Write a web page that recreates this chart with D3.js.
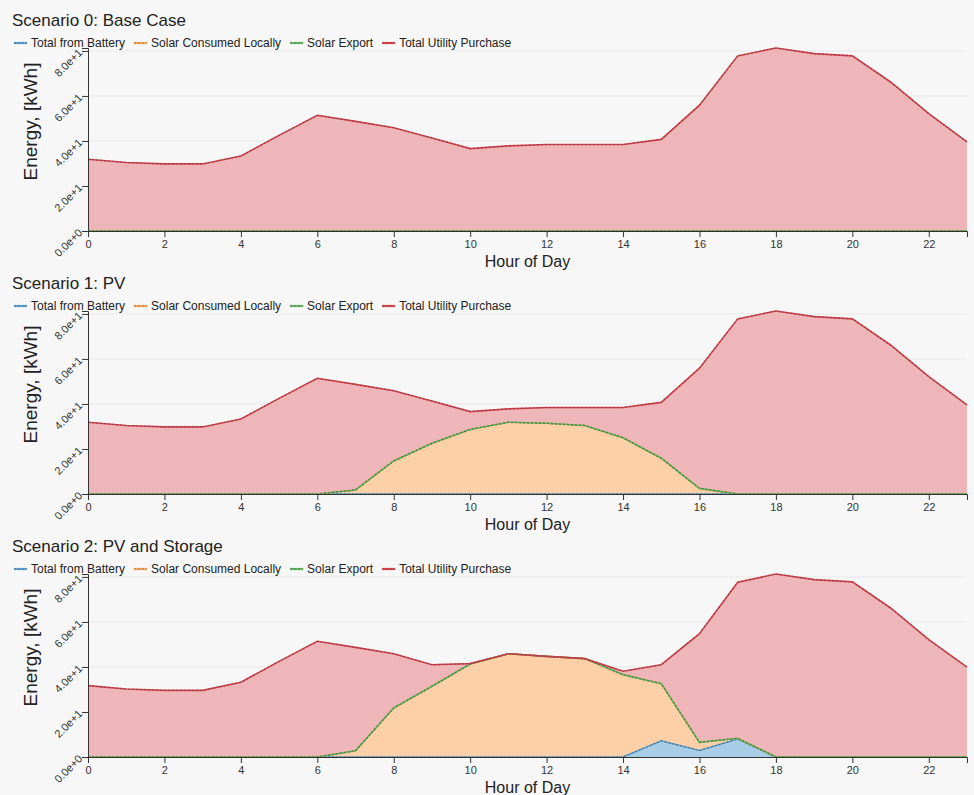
<!DOCTYPE html>
<html><head><meta charset="utf-8">
<script src="https://cdn.jsdelivr.net/npm/d3@7"></script>
<style>
body{margin:0;background:#f7f7f7;font-family:"Liberation Sans",Arial,sans-serif}
svg{display:block}
</style>
</head><body>
<svg id="chart" width="974" height="795"></svg>
<script>
const hours = [0,1,2,3,4,5,6,7,8,9,10,11,12,13,14,15,16,17,18,19,20,21,22,23];
const seriesNames = ["Total from Battery","Solar Consumed Locally","Solar Export","Total Utility Purchase"];
const scenarioTitles = ["Scenario 0: Base Case","Scenario 1: PV","Scenario 2: PV and Storage"];
const xTickValues = [0,2,4,6,8,10,12,14,16,18,20,22];

// Scenario 0
const s0Battery = [0,0,0,0,0,0,0,0,0,0,0,0,0,0,0,0,0,0,0,0,0,0,0,0];
const s0Solar   = [0,0,0,0,0,0,0,0,0,0,0,0,0,0,0,0,0,0,0,0,0,0,0,0];
const s0Export  = [0,0,0,0,0,0,0,0,0,0,0,0,0,0,0,0,0,0,0,0,0,0,0,0];
const s0Utility = [31.9,30.4,29.8,29.8,33.3,42.5,51.4,48.7,45.9,41.3,36.6,37.8,38.4,38.4,38.4,40.7,55.9,77.8,81.3,78.8,77.8,66.2,52.1,39.6];
// Scenario 1
const s1Battery = [0,0,0,0,0,0,0,0,0,0,0,0,0,0,0,0,0,0,0,0,0,0,0,0];
const s1Solar   = [0,0,0,0,0,0,0,1.8,14.7,22.5,28.7,31.9,31.4,30.4,25.0,15.9,2.5,0,0,0,0,0,0,0];
const s1Export  = [0,0,0,0,0,0,0,0,0,0,0,0,0,0,0,0,0,0,0,0,0,0,0,0];
const s1Utility = [31.9,30.4,29.8,29.8,33.3,42.5,51.4,46.9,31.2,18.8,7.9,5.9,7.0,8.0,13.4,24.8,53.4,77.8,81.3,78.8,77.8,66.2,52.1,39.6];
// Scenario 2
const s2Battery = [0,0,0,0,0,0,0,0,0,0,0,0,0,0,0,7.2,2.9,8.0,0,0,0,0,0,0];
const s2Solar   = [0,0,0,0,0,0,0,2.8,21.8,31.4,41.3,45.9,44.7,43.7,36.6,25.4,3.6,0.3,0,0,0,0,0,0];
const s2Export  = [0,0,0,0,0,0,0,0,0,0,0,0,0,0,0,0,0,0,0,0,0,0,0,0];
const s2Utility = [31.7,30.2,29.6,29.6,33.2,42.5,51.4,45.9,24.1,9.6,0.2,0,0,0,1.5,8.4,48.3,69.3,81.3,78.8,77.8,66.2,52.1,39.9];

const scenarios = [
  [s0Battery,s0Solar,s0Export,s0Utility],
  [s1Battery,s1Solar,s1Export,s1Utility],
  [s2Battery,s2Solar,s2Export,s2Utility]
];

const fillColors = ["#a8cde6","#fdd0a8","#b5dcb0","#efb6ba"];
const lineColors = ["#5d9fd1","#f7a55c","#62b85e","#d9424c"];

const svg = d3.select("#chart");
const left = 88, right = 967, plotTop = 48, plotBottom = 231, panelStep = 263;

const x = d3.scaleLinear().domain([0,23]).range([left,right]);

scenarios.forEach((series, i) => {
  const off = i*panelStep;
  const g = svg.append("g").attr("transform", `translate(0,${off})`);
  const rows = hours.map((h,k) => {
    const r = {hour:h};
    seriesNames.forEach((n,j) => r[n] = series[j][k]);
    return r;
  });
  const stacked = d3.stack().keys(seriesNames)(rows);
  const ymax = d3.max(stacked[stacked.length-1], d => d[1]);
  const y = d3.scaleLinear().domain([0,ymax]).range([plotBottom,plotTop]);

  // title
  g.append("text").attr("x",12).attr("y",26).attr("font-size",17).attr("fill","#222").text(scenarioTitles[i]);

  // legend
  let lx = 14;
  seriesNames.forEach((n,j) => {
    const lg = g.append("g").attr("transform",`translate(${lx},43)`);
    lg.append("line").attr("x1",0).attr("x2",13).attr("stroke",lineColors[j]).attr("stroke-width",2.2);
    lg.append("line").attr("x1",0).attr("x2",13).attr("stroke","#444").attr("stroke-opacity",0.45).attr("stroke-width",1).attr("stroke-dasharray","2,2");
    const t = lg.append("text").attr("x",17).attr("y",4).attr("font-size",12).attr("fill","#222").text(n);
    lx += 17 + t.node().getComputedTextLength() + 9;
  });

  // grid
  const yTicks = y.ticks(5);
  g.append("g").selectAll("line").data(yTicks.filter(d=>d>0)).join("line")
    .attr("x1",left).attr("x2",right).attr("y1",d=>y(d)).attr("y2",d=>y(d))
    .attr("stroke","#e8e8e8").attr("stroke-width",1);

  // areas
  const area = d3.area().x(d=>x(d.data.hour)).y0(d=>y(d[0])).y1(d=>y(d[1]));
  const line = d3.line().x(d=>x(d.data.hour)).y(d=>y(d[1]));
  g.append("g").selectAll("path").data(stacked).join("path")
    .attr("d",area).attr("fill",(d,j)=>fillColors[j]).attr("stroke","none");
  // lines
  const lines = g.append("g");
  stacked.forEach((s,j) => {
    lines.append("path").attr("d",line(s)).attr("fill","none").attr("stroke",lineColors[j]).attr("stroke-width",1.6);
    lines.append("path").attr("d",line(s)).attr("fill","none").attr("stroke","#3a3a3a").attr("stroke-opacity",0.45).attr("stroke-width",1.2).attr("stroke-dasharray","2,2");
  });

  // axes
  const xa = g.append("g").attr("transform",`translate(0,${plotBottom})`)
    .call(d3.axisBottom(x).tickValues(xTickValues).tickSizeOuter(6));
  xa.selectAll("text").attr("font-size",11).attr("fill","#333").attr("font-family","'Liberation Sans',Arial,sans-serif");
  xa.selectAll("path,line").attr("stroke","#333");

  const ya = g.append("g").attr("transform",`translate(${left},0)`)
    .call(d3.axisLeft(y).ticks(5).tickFormat(d3.format(".1e")).tickSizeOuter(6));
  ya.selectAll("text").attr("font-size",11).attr("fill","#333").attr("font-family","'Liberation Sans',Arial,sans-serif")
    .attr("x",null).attr("dy",null).attr("text-anchor","end")
    .attr("transform","translate(-5,2) rotate(-45)");
  ya.selectAll("path,line").attr("stroke","#333");

  // axis titles
  g.append("text").attr("transform",`translate(37,${(plotTop+plotBottom)/2 - 18}) rotate(-90)`)
    .attr("text-anchor","middle").attr("font-size",19).attr("fill","#222").text("Energy, [kWh]");
  g.append("text").attr("x",(left+right)/2).attr("y",plotBottom+36)
    .attr("text-anchor","middle").attr("font-size",16).attr("fill","#222").text("Hour of Day");
});
</script>
</body></html>
